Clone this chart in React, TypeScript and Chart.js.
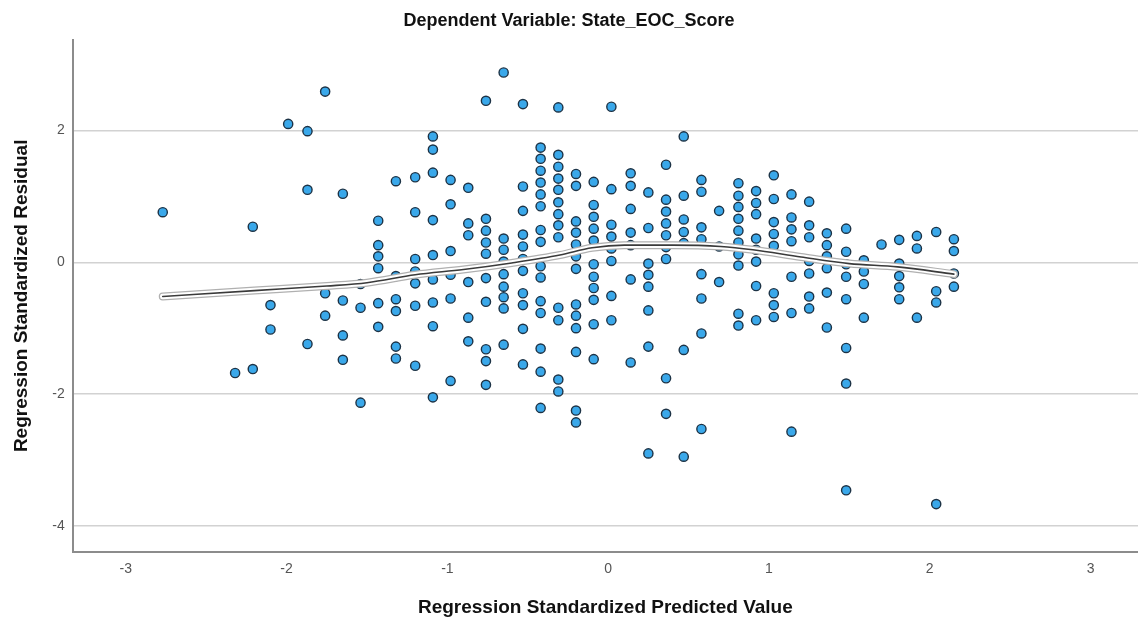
import React, { useEffect, useRef } from "react";
import { Chart, registerables } from "chart.js";

Chart.register(...registerables);

const titleText = "Dependent Variable: State_EOC_Score";
const xTitle = "Regression Standardized Predicted Value";
const yTitle = "Regression Standardized Residual";
const xTickValues = [-3, -2, -1, 0, 1, 2, 3];
const yTickValues = [-4, -2, 0, 2];

// Predicted value of each vertical column of points
const predictedColumns = [
  -2.77, -2.32, -2.21, -2.10, -1.99, -1.87, -1.76, -1.65, -1.54, -1.43,
  -1.32, -1.20, -1.09, -0.98, -0.87, -0.76, -0.65, -0.53, -0.42, -0.31,
  -0.20, -0.09, 0.02, 0.14, 0.25, 0.36, 0.47, 0.58, 0.69, 0.81,
  0.92, 1.03, 1.14, 1.25, 1.36, 1.48, 1.59, 1.70, 1.81, 1.92,
  2.04, 2.15,
];

// Standardized residuals in each column
const residualsByColumn = [
  [0.76],
  [-1.68],
  [0.54, -1.62],
  [-0.65, -1.02],
  [2.1],
  [1.99, 1.1, -1.24],
  [2.59, -0.47, -0.81],
  [1.04, -0.58, -1.11, -1.48],
  [-0.33, -0.69, -2.13],
  [0.63, 0.26, 0.09, -0.09, -0.62, -0.98],
  [1.23, -0.21, -0.56, -0.74, -1.28, -1.46],
  [1.29, 0.76, 0.05, -0.14, -0.32, -0.66, -1.57],
  [1.91, 1.71, 1.36, 0.64, 0.11, -0.26, -0.61, -0.97, -2.05],
  [1.25, 0.88, 0.17, -0.19, -0.55, -1.8],
  [1.13, 0.59, 0.41, -0.3, -0.84, -1.2],
  [2.45, 0.66, 0.48, 0.3, 0.13, -0.24, -0.6, -1.32, -1.5, -1.86],
  [2.88, 0.36, 0.19, 0.01, -0.18, -0.37, -0.53, -0.7, -1.25],
  [2.4, 1.15, 0.78, 0.42, 0.24, 0.05, -0.13, -0.47, -0.65, -1.01, -1.55],
  [1.74, 1.57, 1.39, 1.21, 1.03, 0.85, 0.49, 0.31, -0.06, -0.23, -0.59, -0.77, -1.31, -1.66, -2.21],
  [2.35, 1.63, 1.45, 1.27, 1.1, 0.91, 0.73, 0.56, 0.38, -0.69, -0.88, -1.78, -1.96],
  [1.34, 1.16, 0.62, 0.45, 0.27, 0.09, -0.1, -0.64, -0.81, -1.0, -1.36, -2.25, -2.43],
  [1.22, 0.87, 0.69, 0.51, 0.33, -0.03, -0.22, -0.39, -0.57, -0.94, -1.47],
  [2.36, 1.11, 0.57, 0.39, 0.21, 0.02, -0.51, -0.88],
  [1.35, 1.16, 0.81, 0.45, 0.26, -0.26, -1.52],
  [1.06, 0.52, -0.02, -0.19, -0.37, -0.73, -1.28, -2.9],
  [1.48, 0.95, 0.77, 0.59, 0.41, 0.23, 0.05, -1.76, -2.3],
  [1.91, 1.01, 0.65, 0.46, 0.29, -1.33, -2.95],
  [1.25, 1.07, 0.53, 0.35, -0.18, -0.55, -1.08, -2.53],
  [0.78, 0.24, -0.3],
  [1.2, 1.01, 0.84, 0.66, 0.48, 0.3, 0.12, -0.05, -0.78, -0.96],
  [1.08, 0.9, 0.73, 0.36, 0.19, 0.01, -0.36, -0.88],
  [1.32, 0.96, 0.61, 0.43, 0.25, -0.47, -0.65, -0.83],
  [1.03, 0.68, 0.5, 0.32, -0.22, -0.77, -2.57],
  [0.92, 0.56, 0.38, 0.02, -0.17, -0.52, -0.7],
  [0.44, 0.26, 0.09, -0.09, -0.46, -0.99],
  [0.51, 0.16, -0.03, -0.22, -0.56, -1.3, -1.84, -3.46],
  [0.03, -0.14, -0.33, -0.84],
  [0.27],
  [0.34, -0.02, -0.21, -0.38, -0.56],
  [0.4, 0.21, -0.84],
  [0.46, -0.44, -0.61, -3.67],
  [0.35, 0.17, -0.17, -0.37],
];

// Loess fit line
const fitX = [-2.77, -2.2, -1.75, -1.5, -1.2, -0.9, -0.6, -0.3, -0.1, 0.1, 0.4, 0.7, 0.9, 1.2, 1.5, 1.8, 2.15];
const fitY = [-0.52, -0.43, -0.36, -0.31, -0.19, -0.11, -0.01, 0.11, 0.22, 0.26, 0.26, 0.24, 0.19, 0.08, -0.02, -0.07, -0.18];

const FONT = "Arial, 'Liberation Sans', Helvetica, sans-serif";

export default function App() {
  const ref = useRef<HTMLCanvasElement>(null);

  useEffect(() => {
    const points = predictedColumns.flatMap((x, i) =>
      residualsByColumn[i].map((y) => ({ x, y }))
    );
    const fit = fitX.map((x, i) => ({ x, y: fitY[i] }));
    const lineBase = {
      type: "line" as const,
      data: fit,
      showLine: true,
      pointRadius: 0,
      fill: false,
      cubicInterpolationMode: "monotone" as const,
      borderCapStyle: "round" as const,
      borderJoinStyle: "round" as const,
    };

    const chart = new Chart(ref.current!, {
      type: "scatter",
      data: {
        datasets: [
          {
            data: points,
            backgroundColor: "#3aa8ea",
            borderColor: "#1d3346",
            borderWidth: 1.4,
            pointRadius: 4.6,
            order: 4,
          } as any,
          { ...lineBase, borderColor: "#b0b0b0", borderWidth: 8, order: 3 } as any,
          { ...lineBase, borderColor: "#ffffff", borderWidth: 5.5, order: 2 } as any,
          { ...lineBase, borderColor: "#3a3a3a", borderWidth: 1.6, order: 1 } as any,
        ],
      },
      options: {
        responsive: false,
        animation: false,
        events: [],
        layout: { padding: 0, autoPadding: false },
        plugins: {
          legend: { display: false },
          tooltip: { enabled: false },
          title: {
            display: true,
            text: titleText,
            color: "#111111",
            font: { family: FONT, size: 18, weight: "bold", lineHeight: 1.2 },
            padding: { top: 10, bottom: 8.4 },
          },
        },
        scales: {
          x: {
            type: "linear",
            min: -3.33,
            max: 3.295,
            afterBuildTicks: (s: any) => {
              s.ticks = xTickValues.map((v) => ({ value: v }));
            },
            afterFit: (s: any) => {
              s.height = 79.3;
              s.paddingLeft = 0;
              s.paddingRight = 0;
            },
            grid: { display: true, drawOnChartArea: false, drawTicks: false },
            border: { display: true, color: "#8c8c8c", width: 2 },
            ticks: {
              color: "#555555",
              font: { family: FONT, size: 14 },
              padding: 9,
              maxRotation: 0,
            },
            title: {
              display: true,
              text: xTitle,
              color: "#111111",
              font: { family: FONT, size: 19, weight: "bold", lineHeight: 1.2 },
              padding: { top: 0, bottom: 11.6 },
            },
          },
          y: {
            type: "linear",
            min: -4.392,
            max: 3.373,
            afterBuildTicks: (s: any) => {
              s.ticks = yTickValues.map((v) => ({ value: v }));
            },
            afterFit: (s: any) => {
              s.width = 72.7;
              s.paddingTop = 0;
              s.paddingBottom = 0;
            },
            grid: { color: "#d2d2d2", lineWidth: 1.5, drawTicks: false },
            border: { display: true, color: "#8c8c8c", width: 2 },
            ticks: {
              color: "#555555",
              font: { family: FONT, size: 14 },
              padding: 8,
            },
            title: {
              display: true,
              text: yTitle,
              color: "#111111",
              font: { family: FONT, size: 19, weight: "bold", lineHeight: 1.2 },
              padding: { top: 10.3, bottom: 0 },
            },
          },
        },
      },
    } as any);
    return () => chart.destroy();
  }, []);

  return (
    <div style={{ position: "fixed", left: 0, top: 0, width: 1138, height: 631, background: "#ffffff" }}>
      <canvas ref={ref} width={1138} height={631} style={{ width: 1138, height: 631, display: "block" }} />
    </div>
  );
}
